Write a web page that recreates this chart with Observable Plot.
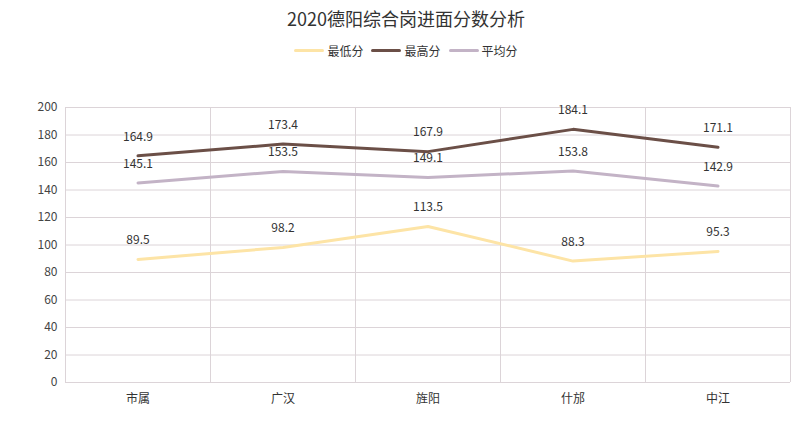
<!DOCTYPE html>
<html><head><meta charset="utf-8">
<script src="https://cdn.jsdelivr.net/npm/d3@7"></script>
<script src="https://cdn.jsdelivr.net/npm/@observablehq/plot@0.6"></script>
<style>
body{margin:0;background:#fff;font-family:"Noto Sans CJK SC","Noto Sans",sans-serif;}
#title{height:36px;line-height:36px;text-align:center;font-size:18px;color:#333;}
#legend{height:28px;display:flex;justify-content:center;align-items:center;font-size:12px;color:#333;gap:4px;}
.sw{display:inline-block;width:30px;height:3px;border-radius:2px;margin-right:3px;vertical-align:middle;}
.it{display:flex;align-items:center;margin:0 2px;}
</style></head><body>
<div id="title">2020德阳综合岗进面分数分析</div>
<div id="legend"></div>
<div id="chart"></div>
<script>
const categories = ["市属","广汉","旌阳","什邡","中江"];
const seriesNames = ["最低分","最高分","平均分"];
const lowScores = [89.5, 98.2, 113.5, 88.3, 95.3];
const highScores = [164.9, 173.4, 167.9, 184.1, 171.1];
const avgScores = [145.1, 153.5, 149.1, 153.8, 142.9];
const yTicks = [0,20,40,60,80,100,120,140,160,180,200];
const colors = ["#fde4a6","#6b4f47","#c3b3c6"];

const seriesValues = [lowScores, highScores, avgScores];
const data = [];
seriesValues.forEach((vals, s) => vals.forEach((v, i) => data.push({series: seriesNames[s], i, cat: categories[i], value: v})));
const bounds = d3.range(categories.length + 1).map(k => k - 0.5);

const leg = document.getElementById("legend");
seriesNames.forEach((n, k) => {
  const d = document.createElement("span"); d.className = "it";
  d.innerHTML = `<span class="sw" style="background:${colors[k]}"></span>${n}`;
  leg.appendChild(d);
});

const chart = Plot.plot({
  width: 812, height: 379,
  marginLeft: 65, marginRight: 22, marginTop: 43, marginBottom: 61,
  style: {fontFamily: '"Noto Sans CJK SC","Noto Sans",sans-serif', fontSize: "12px", color: "#444", background: "#fff"},
  x: {type: "linear", domain: [-0.5, categories.length - 0.5], axis: null},
  y: {domain: [0, 200], axis: null},
  color: {domain: seriesNames, range: colors},
  marks: [
    Plot.ruleY(yTicks, {stroke: "#dcd4d8", strokeWidth: 1}),
    Plot.ruleX(bounds, {stroke: "#dcd4d8", strokeWidth: 1}),
    Plot.axisY({ticks: yTicks, tickSize: 0, tickPadding: 8, fontSize: 12, fill: "#444", label: null}),
    Plot.axisX({ticks: d3.range(categories.length), tickFormat: i => categories[i], tickSize: 0, tickPadding: 12, fontSize: 12, fill: "#333", label: null}),
    Plot.line(data, {x: "i", y: "value", z: "series", stroke: "series", strokeWidth: 3, curve: "linear"}),
    Plot.text(data, {x: "i", y: "value", text: d => d.value.toFixed(1), dy: -19, fill: "#333", fontSize: 12})
  ]
});
document.getElementById("chart").appendChild(chart);
</script>
</body></html>
